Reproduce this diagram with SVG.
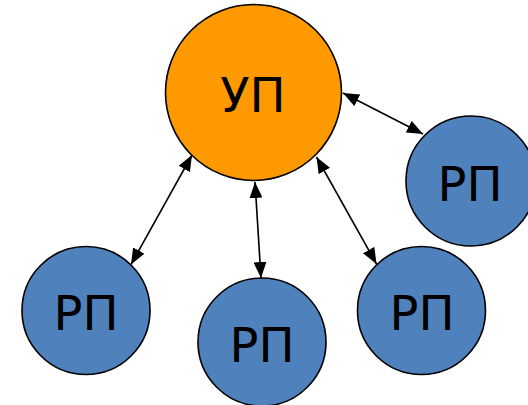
<svg xmlns="http://www.w3.org/2000/svg" width="528" height="405" viewBox="0 0 528 405">
<style>
.n{stroke:#000;stroke-width:1.6}
.up{fill:#FF9900}
.rp{fill:#4F81BD}
.t{font-family:"DejaVu Sans",Verdana,sans-serif;font-size:48px;fill:#000;text-anchor:middle}
.c{stroke:#000;stroke-width:1.6;fill:none;marker-start:url(#a);marker-end:url(#a)}
</style>
<defs>
<marker id="a" viewBox="0 0 16 13" refX="16" refY="6.5" markerWidth="16" markerHeight="13" markerUnits="userSpaceOnUse" orient="auto-start-reverse">
<path d="M0,0 L16,6.5 L0,13 Z" fill="#000"/>
</marker>
</defs>
<g id="connectors">
<line class="c" x1="192" y1="155" x2="131" y2="264.5"/>
<line class="c" x1="255" y1="182" x2="261" y2="278"/>
<line class="c" x1="316.5" y1="157" x2="376.5" y2="264"/>
<line class="c" x1="343" y1="93" x2="423" y2="134"/>
</g>
<g id="up">
<circle class="n up" cx="253.5" cy="92.5" r="88"/>
<text class="t" x="253" y="111.5">УП</text>
</g>
<g id="rp1">
<circle class="n rp" cx="471" cy="181" r="65"/>
<text class="t" x="470" y="200.5">РП</text>
</g>
<g id="rp2">
<circle class="n rp" cx="86" cy="310.5" r="64"/>
<text class="t" x="86" y="330">РП</text>
</g>
<g id="rp3">
<circle class="n rp" cx="262" cy="342" r="64"/>
<text class="t" x="262" y="362">РП</text>
</g>
<g id="rp4">
<circle class="n rp" cx="421.5" cy="310.5" r="64"/>
<text class="t" x="422" y="330">РП</text>
</g>
</svg>
